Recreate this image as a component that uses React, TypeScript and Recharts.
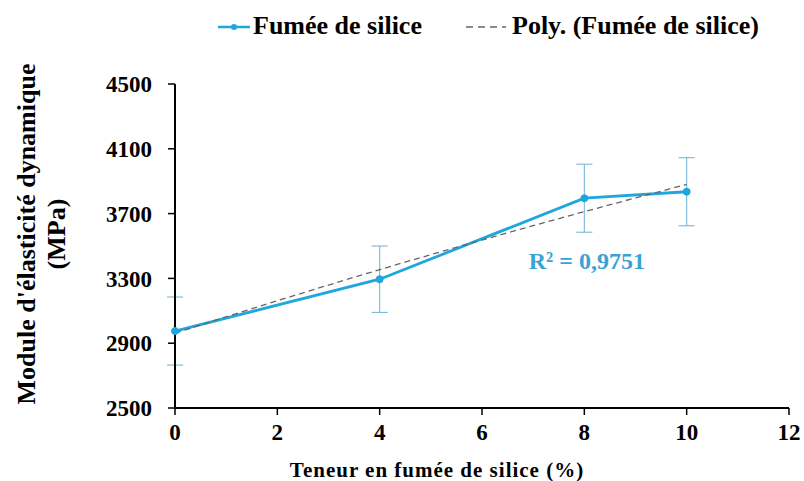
import React from 'react';
import { ComposedChart, Line, XAxis, YAxis, ErrorBar, ReferenceDot } from 'recharts';

// Measured series (Fumée de silice)
const silicaContent = [0, 4, 8, 10];
const modulusValues = [2975, 3295, 3795, 3835];
const errorValues = [210, 205, 210, 210];

// Polynomial trend line
const trendX = [0, 2, 4, 6, 8, 10];
const trendY = [2962, 3162, 3354, 3537, 3712, 3880];

const xTicks = [0, 2, 4, 6, 8, 10, 12];
const yTicks = [2500, 2900, 3300, 3700, 4100, 4500];

const seriesName = 'Fumée de silice';
const trendName = 'Poly. (Fumée de silice)';
const r2Label = 'R² = 0,9751';
const xTitle = 'Teneur en fumée de silice (%)';
const yTitle1 = "Module d'élasticité dynamique";
const yTitle2 = '(MPa)';

const mainData = silicaContent.map((x, i) => ({ x, y: modulusValues[i], err: errorValues[i] }));
const trendData = trendX.map((x, i) => ({ x, y: trendY[i] }));

const FONT = "'Times New Roman', 'Liberation Serif', 'DejaVu Serif', serif";
const BLUE = '#1ea6de';
const ERR_BLUE = '#78b8d6';
const LABEL_BLUE = '#3ca2d6';

const tickStyle = { fontFamily: FONT, fontWeight: 700, fontSize: 23, fill: '#000', style: { fontFamily: FONT } };

export default function App() {
  return (
    <div style={{ position: 'absolute', left: 0, top: 0, width: 804, height: 481, background: '#fff', fontFamily: FONT }}>
      <ComposedChart width={804} height={481} margin={{ top: 84, right: 15, bottom: 0, left: 0 }} style={{ fontFamily: FONT }}>
        <XAxis
          type="number"
          dataKey="x"
          domain={[0, 12]}
          ticks={xTicks}
          interval={0}
          height={73}
          tick={tickStyle}
          tickSize={7}
          tickMargin={9}
          axisLine={{ stroke: '#000', strokeWidth: 2 }}
          tickLine={{ stroke: '#000', strokeWidth: 1.5 }}
          allowDuplicatedCategory={false}
          label={{
            content: () => (
              <text
                x={437}
                y={477}
                textAnchor="middle"
                style={{ fontFamily: FONT }}
                fontWeight={700}
                fontSize={21}
                letterSpacing={1}
                fill="#000"
              >
                {xTitle}
              </text>
            ),
          }}
        />
        <YAxis
          type="number"
          domain={[2500, 4500]}
          ticks={yTicks}
          interval={0}
          width={175}
          tick={tickStyle}
          tickSize={7}
          tickMargin={16}
          axisLine={{ stroke: '#000', strokeWidth: 2 }}
          tickLine={{ stroke: '#000', strokeWidth: 1.5 }}
          label={{
            content: () => (
              <text
                x={35}
                y={234}
                transform="rotate(-90 35 234)"
                textAnchor="middle"
                style={{ fontFamily: FONT }}
                fontWeight={700}
                fontSize={26}
                fill="#000"
              >
                <tspan x={35} dy={0}>{yTitle1}</tspan>
                <tspan x={35} dy={30}>{yTitle2}</tspan>
              </text>
            ),
          }}
        />
        <Line
          data={mainData}
          dataKey="y"
          name={seriesName}
          type="linear"
          stroke={BLUE}
          strokeWidth={2.8}
          dot={{ r: 3.5, fill: BLUE, stroke: BLUE, strokeWidth: 1 }}
          activeDot={false}
          isAnimationActive={false}
        >
          <ErrorBar dataKey="err" direction="y" width={8} stroke={ERR_BLUE} strokeWidth={1.1} isAnimationActive={false} />
        </Line>
        <Line
          data={trendData}
          dataKey="y"
          name={trendName}
          type="monotone"
          stroke="#666666"
          strokeWidth={1.3}
          strokeDasharray="6 4"
          dot={false}
          activeDot={false}
          isAnimationActive={false}
        />
        <ReferenceDot
          x={8.05}
          y={3410}
          r={0}
          fill="none"
          stroke="none"
          label={{
            value: r2Label,
            position: 'center',
            fill: LABEL_BLUE,
            fontWeight: 700,
            fontSize: 24,
            style: { fontFamily: FONT },
          }}
        />
      </ComposedChart>
      <svg
        width={804}
        height={60}
        style={{ position: 'absolute', left: 0, top: 0, pointerEvents: 'none' }}
      >
        <line x1={218} y1={27} x2={250} y2={27} stroke={BLUE} strokeWidth={2.5} />
        <circle cx={234} cy={27} r={3} fill={BLUE} />
        <text x={253} y={34} style={{ fontFamily: FONT }} fontWeight={700} fontSize={26} fill="#000">
          {seriesName}
        </text>
        <line x1={466} y1={27} x2={506} y2={27} stroke="#666666" strokeWidth={1.3} strokeDasharray="7 5" />
        <text x={512} y={34} style={{ fontFamily: FONT }} fontWeight={700} fontSize={26} fill="#000">
          {trendName}
        </text>
      </svg>
    </div>
  );
}
